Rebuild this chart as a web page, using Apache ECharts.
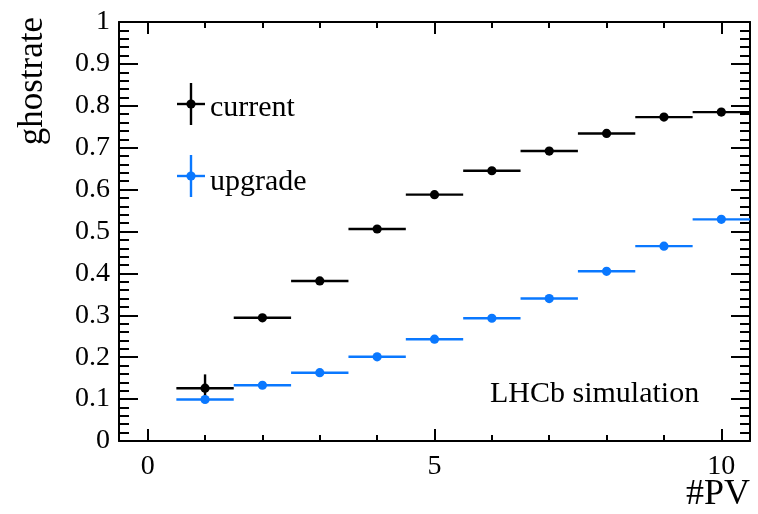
<!DOCTYPE html>
<html>
<head>
<meta charset="utf-8">
<script src="https://cdn.jsdelivr.net/npm/echarts@6/dist/echarts.min.js"></script>
<style>
  html, body { margin: 0; padding: 0; background: #fff; }
  #chart { width: 758px; height: 514px; }
</style>
</head>
<body>
<div id="chart"></div>
<script>
// #PV bins
const pvBins = [1, 2, 3, 4, 5, 6, 7, 8, 9, 10]
// ghost rate, current tracking
const currentRate = [0.126, 0.294, 0.382, 0.506, 0.588, 0.645, 0.692, 0.734, 0.773, 0.785]
const currentErr = [0.033, 0.005, 0.004, 0.004, 0.003, 0.003, 0.003, 0.003, 0.003, 0.003]
// ghost rate, upgrade tracking
const upgradeRate = [0.099, 0.133, 0.163, 0.201, 0.243, 0.293, 0.340, 0.405, 0.465, 0.529]
const upgradeErr = [0.004, 0.003, 0.003, 0.003, 0.003, 0.003, 0.003, 0.003, 0.003, 0.003]
const xMajor = [0, 5, 10]
const xMinor = [1, 2, 3, 4, 6, 7, 8, 9]

const FONT = '"Liberation Serif", "DejaVu Serif", serif'
const BLUE = '#0a78ff'

// point with horizontal bin width and vertical error bar
function renderPoint(color) {
  return function (params, api) {
    const x = api.value(0), y = api.value(1), e = api.value(2)
    const left = api.coord([x - 0.5, y])
    const right = api.coord([x + 0.5, y])
    const top = api.coord([x, y + e])
    const bottom = api.coord([x, y - e])
    const c = api.coord([x, y])
    const lineStyle = { stroke: color, lineWidth: 2.4 }
    return {
      type: 'group',
      children: [
        { type: 'line', shape: { x1: left[0], y1: left[1], x2: right[0], y2: right[1] }, style: lineStyle },
        { type: 'line', shape: { x1: top[0], y1: top[1], x2: bottom[0], y2: bottom[1] }, style: lineStyle },
        { type: 'circle', shape: { cx: c[0], cy: c[1], r: 4.6 }, style: { fill: color } }
      ]
    }
  }
}

function xAxisDef(pos, ticks, len, withLine, withLabel) {
  return {
    type: 'value',
    position: pos,
    min: -0.5,
    max: 10.5,
    axisLine: { show: withLine, onZero: false, lineStyle: { color: '#000', width: 2 } },
    axisTick: { show: true, inside: true, length: len, customValues: ticks, lineStyle: { color: '#000', width: 2 } },
    axisLabel: {
      show: withLabel, customValues: ticks, margin: 12,
      color: '#000', fontFamily: FONT, fontSize: 28
    },
    splitLine: { show: false }
  }
}

function yAxisDef(pos, withLabel) {
  return {
    type: 'value',
    position: pos,
    min: 0,
    max: 1,
    interval: 0.1,
    axisLine: { show: true, onZero: false, lineStyle: { color: '#000', width: 2 } },
    axisTick: { show: true, inside: true, length: 19, lineStyle: { color: '#000', width: 2 } },
    minorTick: { show: true, splitNumber: 5, length: 10, lineStyle: { color: '#000', width: 2 } },
    axisLabel: { show: withLabel, margin: 9, color: '#000', fontFamily: FONT, fontSize: 28 },
    splitLine: { show: false }
  }
}

function legendMark(cx, cy, color) {
  return [
    { type: 'line', shape: { x1: cx, y1: cy - 21, x2: cx, y2: cy + 21 }, style: { stroke: color, lineWidth: 2.4 } },
    { type: 'line', shape: { x1: cx - 14, y1: cy, x2: cx + 14, y2: cy }, style: { stroke: color, lineWidth: 2.4 } },
    { type: 'circle', shape: { cx: cx, cy: cy, r: 4.6 }, style: { fill: color } }
  ]
}

const chart = echarts.init(document.getElementById('chart'), null, { renderer: 'canvas' })
chart.setOption({
  animation: false,
  backgroundColor: '#fff',
  grid: { left: 119, top: 22, right: 8, bottom: 73, outerBoundsMode: 'none' },
  xAxis: [
    xAxisDef('bottom', xMajor, 12, true, true),
    xAxisDef('bottom', xMinor, 6, false, false),
    xAxisDef('top', xMajor, 12, true, false),
    xAxisDef('top', xMinor, 6, false, false)
  ],
  yAxis: [yAxisDef('left', true), yAxisDef('right', false)],
  series: [
    {
      name: 'current',
      type: 'custom',
      xAxisIndex: 0,
      yAxisIndex: 0,
      renderItem: renderPoint('#000'),
      data: pvBins.map((x, i) => [x, currentRate[i], currentErr[i]]),
      z: 2
    },
    {
      name: 'upgrade',
      type: 'custom',
      xAxisIndex: 0,
      yAxisIndex: 0,
      renderItem: renderPoint(BLUE),
      data: pvBins.map((x, i) => [x, upgradeRate[i], upgradeErr[i]]),
      z: 3
    }
  ],
  graphic: [
    ...legendMark(191, 104, '#000'),
    ...legendMark(191, 176, BLUE),
    { type: 'text', left: 210, top: 93, style: { text: 'current', fill: '#000', font: '30px ' + FONT } },
    { type: 'text', left: 210, top: 167, style: { text: 'upgrade', fill: '#000', font: '30px ' + FONT } },
    { type: 'text', left: 490, top: 379, style: { text: 'LHCb simulation', fill: '#000', font: '30px ' + FONT } },
    { type: 'text', right: 8, top: 477, style: { text: '#PV', fill: '#000', font: '36px ' + FONT } },
    {
      type: 'text', x: 33, y: 17, rotation: Math.PI / 2,
      style: { text: 'ghostrate', fill: '#000', font: '35px ' + FONT, align: 'right', verticalAlign: 'middle' }
    }
  ]
})
</script>
</body>
</html>
